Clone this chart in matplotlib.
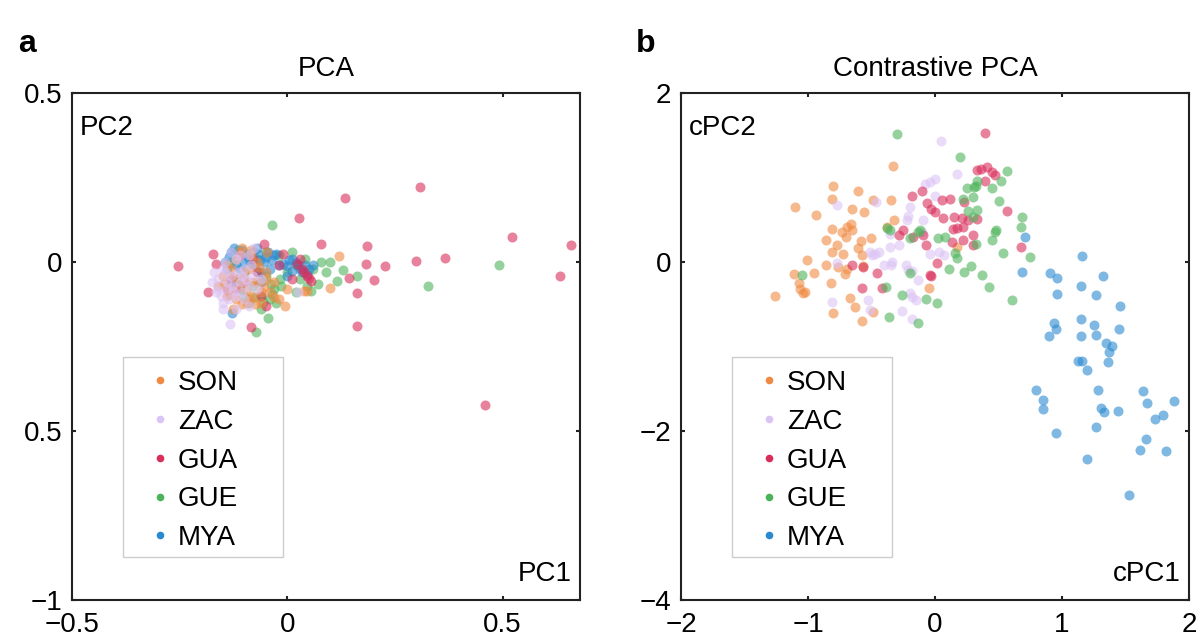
import matplotlib
matplotlib.use("Agg")
import matplotlib.pyplot as plt
from matplotlib.lines import Line2D
from matplotlib.patches import Rectangle

plt.rcParams['font.family'] = ['Liberation Sans', 'DejaVu Sans']

groups = ["SON", "ZAC", "GUA", "GUE", "MYA"]
colors = ["#F08A42", "#DCC3F5", "#D92D5A", "#4DB35A", "#2A8AD0"]

# ---------------- Panel a: PCA ----------------
pca_son_x = [0.121, 0.100, -0.005, 0.047, 0.040, -0.105, -0.147, -0.093, -0.030, -0.126, -0.047, -0.10,
             -0.08, -0.13, -0.06, -0.11, -0.07, -0.09, -0.14, -0.12, -0.05, -0.075, -0.115, -0.085,
             -0.15, -0.13, -0.12, -0.10, -0.09, -0.08, -0.07, -0.06, -0.05, -0.04, -0.03, -0.11,
             -0.14, -0.16, -0.095, -0.065, -0.125, -0.085, -0.105, -0.055, -0.02, 0.0, -0.135]
pca_son_y = [0.018, -0.077, -0.130, -0.086, -0.086, 0.041, -0.065, -0.121, -0.103, -0.139, 0.030, -0.03,
             -0.06, -0.02, -0.09, -0.07, 0.0, -0.11, -0.10, 0.01, -0.05, -0.125, -0.05, 0.02,
             -0.04, -0.08, -0.11, -0.05, -0.02, -0.10, -0.06, -0.12, -0.03, -0.09, -0.06, 0.03,
             -0.01, -0.07, -0.085, -0.015, -0.045, 0.035, -0.125, -0.075, -0.11, -0.08, -0.095]

pca_zac_x = [-0.133, 0.026, -0.077, -0.16, -0.15, -0.14, -0.13, -0.12, -0.11, -0.10, -0.09, -0.08,
             -0.155, -0.145, -0.135, -0.125, -0.115, -0.105, -0.095, -0.085, -0.14, -0.12, -0.10,
             -0.13, -0.11, -0.16, -0.07, -0.09, -0.15, -0.105, -0.125, -0.145,
             -0.17, -0.165, -0.15, -0.12, -0.09, -0.06, -0.175]
pca_zac_y = [-0.183, -0.089, 0.041, -0.05, -0.02, -0.08, -0.04, -0.10, -0.06, -0.02, -0.07, -0.04,
             -0.10, 0.0, -0.11, -0.07, -0.03, -0.09, -0.05, -0.01, -0.06, 0.01, -0.11,
             0.03, 0.02, -0.08, -0.08, 0.02, -0.12, -0.04, -0.085, -0.03,
             -0.03, -0.09, -0.14, -0.14, -0.13, -0.05, -0.06]

pca_gua_x = [-0.253, -0.172, -0.165, -0.184, -0.053, -0.009, 0.028, 0.133, 0.309, 0.079, 0.186, 0.184,
             0.226, 0.144, 0.202, 0.163, 0.300, 0.367, 0.163, -0.084, 0.023, 0.051, 0.521, 0.658,
             0.633, 0.460, -0.07, -0.12, 0.035, 0.045,
             -0.10, -0.08, -0.06, -0.13, 0.04, 0.03, -0.02, 0.055, -0.11, -0.05, 0.01, -0.14]
pca_gua_y = [-0.012, 0.024, -0.006, -0.089, 0.053, 0.024, 0.130, 0.189, 0.222, 0.053, 0.047, -0.006,
             -0.012, -0.047, -0.053, -0.092, 0.003, 0.012, -0.189, -0.192, -0.006, -0.047, 0.074, 0.050,
             -0.041, -0.423, -0.03, -0.08, -0.02, -0.04,
             -0.06, 0.01, -0.10, -0.05, -0.03, 0.01, -0.01, -0.055, 0.02, -0.13, -0.05, -0.08]

pca_gue_x = [0.493, 0.326, -0.035, 0.079, 0.100, 0.130, 0.163, 0.116, 0.072, 0.056, -0.044, -0.072,
             -0.037, -0.03, 0.042, -0.016, -0.056, -0.09, -0.12, -0.06, 0.02,
             -0.10, -0.08, -0.05, -0.07, -0.11, -0.04, -0.06, 0.0, 0.03, -0.02, -0.13, -0.09, 0.01,
             -0.05, -0.035, 0.06, -0.075, -0.015, 0.09, -0.115, 0.02, -0.065, -0.10, 0.045, -0.025]
pca_gue_y = [-0.009, -0.071, 0.109, 0.0, 0.0, -0.024, -0.041, -0.056, -0.065, -0.086, -0.166, -0.207,
             -0.065, -0.08, 0.009, -0.050, -0.118, 0.02, -0.05, -0.10, -0.01,
             -0.03, -0.07, -0.04, 0.01, -0.08, -0.11, -0.14, -0.03, -0.05, 0.02, 0.0, -0.12, 0.03,
             0.03, -0.095, -0.02, -0.105, -0.07, -0.03, 0.035, -0.09, -0.03, -0.10, -0.07, -0.12]

pca_mya_x = [-0.123, -0.067, -0.063, 0.0, 0.012, 0.042, -0.128, -0.135, -0.10, -0.05, -0.02, 0.02,
             -0.08, -0.11, -0.04, 0.03, -0.09, -0.06, -0.145, -0.03, 0.005, -0.115, -0.075, 0.05,
             -0.13, -0.12, -0.105, -0.095, -0.085, -0.07, -0.055, -0.045, -0.035, -0.025, -0.01,
             0.01, 0.025, 0.035, 0.045, 0.06, -0.14, -0.13, -0.06, 0.0]
pca_mya_y = [0.041, 0.024, 0.006, -0.012, -0.027, -0.009, -0.151, 0.015, 0.0, 0.015, -0.01, 0.0,
             0.03, -0.02, -0.02, -0.02, 0.01, -0.03, 0.0, 0.02, 0.005, 0.025, -0.01, -0.02,
             0.03, -0.01, 0.035, 0.02, -0.005, 0.04, 0.0, 0.03, 0.005, 0.025, -0.005,
             0.01, -0.01, -0.03, -0.035, -0.01, -0.02, -0.06, -0.06, -0.04]

# ---------------- Panel b: Contrastive PCA ----------------
cpca_son = [(-1.102, 0.651), (-0.937, 0.556), (-0.803, 0.899), (-0.811, 0.746), (-0.606, 0.840),
            (-0.654, 0.627), (-0.559, 0.592), (-0.488, 0.734), (-0.346, 0.734), (-0.331, 1.136),
            (-0.811, 0.391), (-0.73, 0.35), (-0.69, 0.42), (-0.66, 0.45), (-0.70, 0.30), (-0.65, 0.38),
            (-0.858, 0.260), (-0.772, 0.201), (-0.811, 0.118), (-0.724, 0.095), (-0.583, 0.249),
            (-0.606, 0.166), (-0.504, 0.284), (-0.575, 0.083), (-1.008, 0.024), (-0.858, -0.035),
            (-0.953, -0.130), (-1.110, -0.142), (-1.07, -0.25), (-1.06, -0.32), (-1.04, -0.37),
            (-1.02, -0.36), (-1.260, -0.402), (-0.764, -0.059), (-0.709, -0.142), (-0.69, -0.08),
            (-0.819, -0.249), (-0.669, -0.426), (-0.630, -0.533), (-0.803, -0.604), (-0.575, -0.698),
            (-0.488, -0.592), (-0.378, 0.414), (-0.323, 0.497), (-0.047, -0.308), (0.173, 0.178),
            (-0.57, -0.05)]
cpca_zac = [(0.047, 1.432), (0.173, 1.041), (-0.08, 0.92), (-0.04, 0.95), (0.0, 0.98), (-0.772, 0.675),
            (-0.465, 0.710), (0.0, 0.781), (-0.2, 0.65), (-0.21, 0.55), (-0.22, 0.50), (-0.094, 0.497),
            (-0.51, 0.12), (-0.47, 0.10), (-0.44, 0.12), (-0.50, 0.08), (-0.354, 0.178), (-0.40, -0.03),
            (-0.35, -0.04), (-0.34, 0.0), (-0.23, -0.04), (-0.21, -0.09), (-0.18, -0.11), (-0.04, 0.10),
            (0.03, 0.12), (0.07, 0.08), (-0.77, -0.01), (-0.811, -0.473), (-0.528, -0.450),
            (-0.512, -0.568), (-0.20, -0.37), (-0.18, -0.42), (-0.15, -0.45), (-0.26, -0.58),
            (-0.181, -0.675), (-0.134, -0.213), (-0.354, 0.331), (-0.28, 0.20), (-0.10, 0.35)]
cpca_gua = [(0.394, 1.527), (0.33, 1.09), (0.36, 1.10), (0.41, 1.12), (0.45, 1.07), (0.47, 1.03),
            (0.394, 0.959), (-0.181, 0.781), (-0.102, 0.840), (-0.06, 0.70), (-0.03, 0.63), (0.0, 0.59),
            (0.055, 0.734), (0.118, 0.745), (0.228, 0.710), (0.567, 0.604), (0.06, 0.52), (0.15, 0.53),
            (0.21, 0.52), (0.26, 0.50), (0.33, 0.51), (0.14, 0.39), (0.17, 0.40), (0.22, 0.41),
            (0.299, 0.320), (-0.25, 0.38), (-0.28, 0.32), (-0.094, 0.320), (-0.173, 0.296),
            (-0.071, 0.201), (0.22, 0.26), (0.299, 0.201), (0.016, -0.012), (0.134, 0.237),
            (-0.654, -0.035), (-0.567, -0.059), (-0.457, -0.130), (-0.039, -0.154), (-0.03, -0.17),
            (-0.575, -0.308), (-0.417, -0.308), (0.677, 0.178)]
cpca_gue = [(-0.299, 1.515), (0.197, 1.243), (0.567, 1.077), (0.520, 0.959), (0.33, 0.96), (0.32, 0.90),
            (0.25, 0.876), (0.307, 0.888), (0.449, 0.876), (0.22, 0.746), (0.299, 0.769), (0.26, 0.60),
            (0.33, 0.62), (0.30, 0.53), (0.504, 0.722), (0.685, 0.533), (0.677, 0.414), (0.480, 0.379),
            (0.449, 0.260), (0.748, 0.059), (0.535, 0.106), (0.323, 0.213), (0.079, 0.296),
            (0.024, 0.284), (-0.118, 0.379), (-0.13, 0.35), (-0.354, 0.379), (-0.378, 0.40),
            (0.157, 0.106), (0.173, 0.047), (0.110, -0.083), (0.283, -0.047), (0.228, -0.118),
            (0.370, -0.154), (0.425, -0.296), (0.606, -0.450), (-0.071, -0.438), (0.016, -0.485),
            (-0.134, -0.722), (-0.362, -0.651), (-0.26, -0.39), (-0.386, -0.296), (-0.197, -0.130),
            (-1.047, -0.154), (0.472, 0.355), (-0.20, 0.28)]
cpca_mya = [(0.709, 0.296), (0.685, -0.118), (1.157, 0.071), (0.906, -0.130), (0.961, -0.189),
            (0.961, -0.379), (1.150, -0.284), (1.323, -0.166), (1.268, -0.391), (1.457, -0.521),
            (0.937, -0.722), (0.953, -0.793), (0.898, -0.876), (1.150, -0.675), (1.150, -0.876),
            (1.252, -0.746), (1.268, -0.864), (1.449, -0.793), (1.346, -0.959), (1.394, -0.994),
            (1.37, -1.065), (1.126, -1.172), (1.157, -1.172), (1.197, -1.278), (1.362, -1.183),
            (0.795, -1.515), (0.850, -1.633), (0.850, -1.740), (0.953, -2.024), (1.283, -1.515),
            (1.307, -1.728), (1.331, -1.775), (1.441, -1.763), (1.268, -1.953), (1.197, -2.331),
            (1.638, -1.527), (1.669, -1.669), (1.882, -1.645), (1.795, -1.811), (1.732, -1.858),
            (1.661, -2.095), (1.614, -2.225), (1.819, -2.237), (1.528, -2.757)]

pca_x = [pca_son_x, pca_zac_x, pca_gua_x, pca_gue_x, pca_mya_x]
pca_y = [pca_son_y, pca_zac_y, pca_gua_y, pca_gue_y, pca_mya_y]
cpca = [cpca_son, cpca_zac, cpca_gua, cpca_gue, cpca_mya]

pca_xticks = [-0.5, 0, 0.5]
pca_xticklabels = ["\u22120.5", "0", "0.5"]
pca_yticks = [0.5, 0, -0.5, -1]
pca_yticklabels = ["0.5", "0", "0.5", "\u22121"]
cpca_xticks = [-2, -1, 0, 1, 2]
cpca_xticklabels = ["\u22122", "\u22121", "0", "1", "2"]
cpca_yticks = [2, 0, -2, -4]
cpca_yticklabels = ["2", "0", "\u22122", "\u22124"]

W, H = 1202, 640
fig = plt.figure(figsize=(W / 100, H / 100), dpi=100)
axa = fig.add_axes([72 / W, 40 / H, 508 / W, 507 / H])
axb = fig.add_axes([681 / W, 40 / H, 508 / W, 507 / H])

S = 52
ALPHA = 0.6
FS = 20

# drawing order in panel a: lavender/orange end up on top of the dense cluster
order_a = [3, 4, 2, 0, 1]
for i in order_a:
    axa.scatter(pca_x[i], pca_y[i], s=S, color=colors[i], alpha=ALPHA, linewidths=0)
for i in range(5):
    xs = [p[0] for p in cpca[i]]
    ys = [p[1] for p in cpca[i]]
    axb.scatter(xs, ys, s=S, color=colors[i], alpha=ALPHA, linewidths=0)


def style(ax, xlim, ylim, xt, xtl, yt, ytl, title, xl, yl):
    ax.set_xlim(*xlim)
    ax.set_ylim(*ylim)
    ax.set_xticks(xt)
    ax.set_xticklabels(xtl)
    ax.set_yticks(yt)
    ax.set_yticklabels(ytl)
    ax.tick_params(direction='in', length=3, width=1.5, top=True, right=True,
                   labelsize=FS, color='#222222')
    ax.tick_params(axis='x', pad=9)
    ax.tick_params(axis='y', pad=7)
    for sp in ax.spines.values():
        sp.set_linewidth(1.5)
        sp.set_color('#222222')
    ax.set_title(title, fontsize=FS, pad=12)
    ax.text(0.016, 0.93, yl, transform=ax.transAxes, fontsize=FS, ha='left', va='center')
    ax.text(0.984, 0.052, xl, transform=ax.transAxes, fontsize=FS, ha='right', va='center')
    ax.add_patch(Rectangle((0.1004, 0.0848), 0.3146, 0.3942, transform=ax.transAxes,
                           facecolor='white', edgecolor='#cccccc', linewidth=1.0, zorder=5))
    handles = [Line2D([0], [0], marker='o', linestyle='none', markersize=5.5,
                      markerfacecolor=c, markeredgewidth=0) for c in colors]
    leg = ax.legend(handles, groups, loc='center left', bbox_to_anchor=(0.151, 0.275),
                    borderaxespad=0, borderpad=0, fontsize=FS, frameon=False,
                    labelspacing=0.46, handletextpad=0.25, handlelength=0.8)
    leg.set_zorder(6)


style(axa, (-0.5, 0.68), (-1, 0.5), pca_xticks, pca_xticklabels, pca_yticks, pca_yticklabels,
      "PCA", "PC1", "PC2")
style(axb, (-2, 2), (-4, 2), cpca_xticks, cpca_xticklabels, cpca_yticks, cpca_yticklabels,
      "Contrastive PCA", "cPC1", "cPC2")

fig.text(18 / W, 1 - 52 / H, "a", fontsize=23, fontweight='bold', ha='left', va='baseline')
fig.text(636 / W, 1 - 52 / H, "b", fontsize=23, fontweight='bold', ha='left', va='baseline')

fig.savefig("out.png", dpi=100)
